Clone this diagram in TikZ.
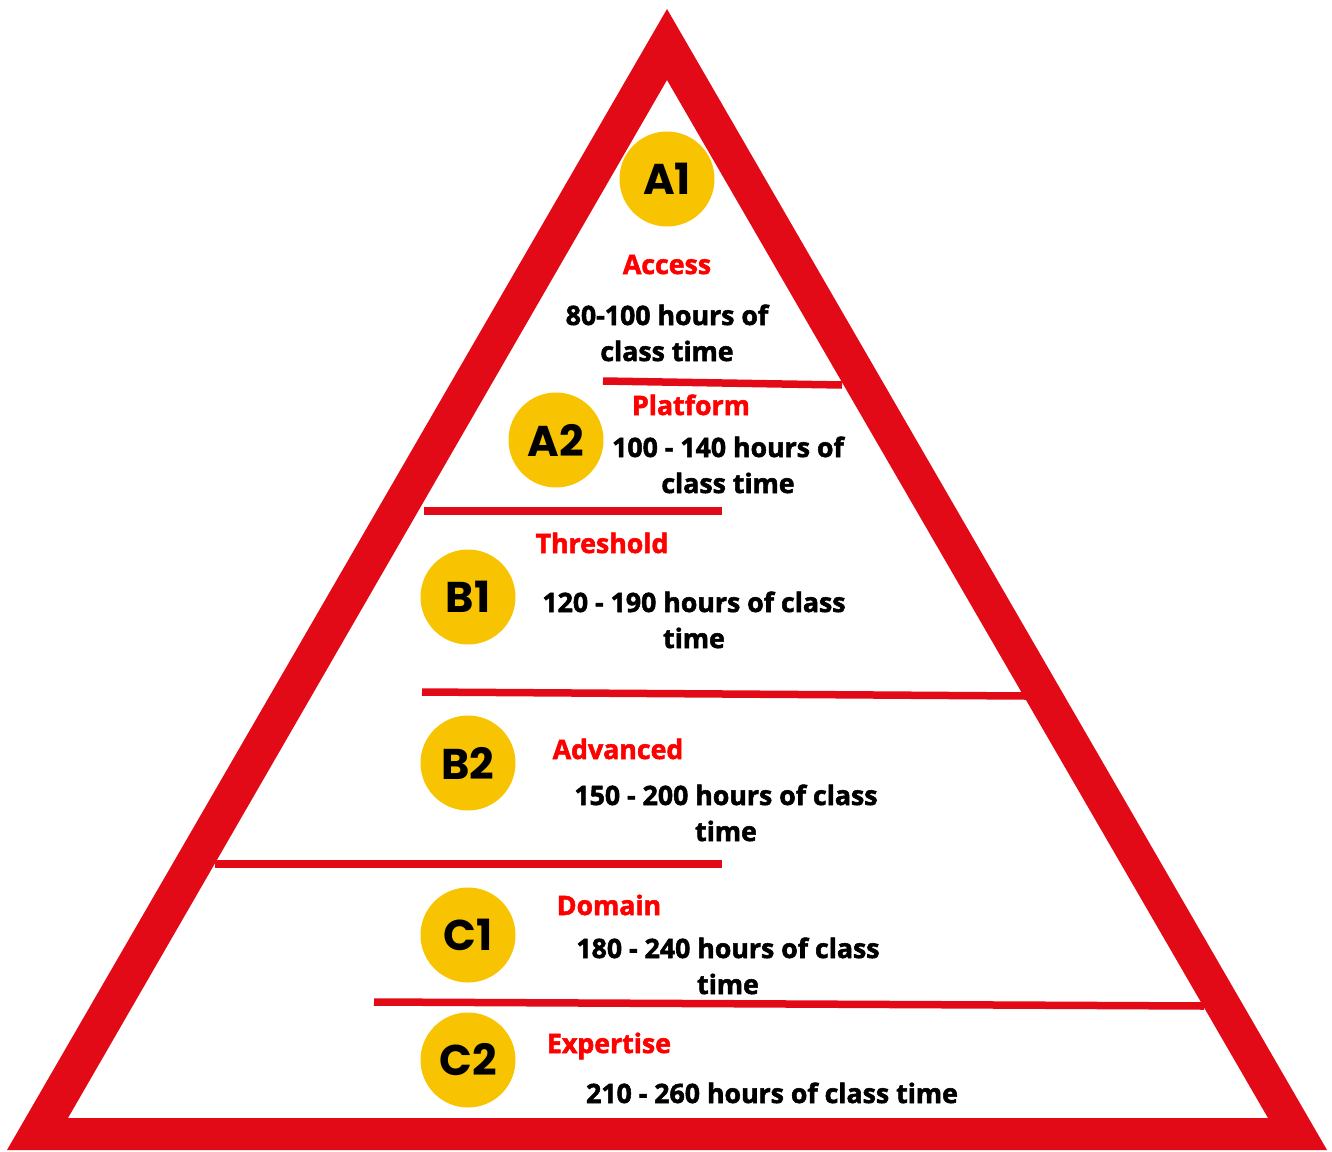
\documentclass[tikz,border=0pt]{standalone}
\usepackage{fontspec}
\setmainfont{Open Sans}[BoldFeatures={FakeBold=2}]
\newfontfamily\levelfont{Poppins}
\definecolor{trired}{HTML}{E30A17}
\definecolor{labelred}{HTML}{FF0000}
\definecolor{levelyellow}{HTML}{F8C300}

\begin{document}
\begin{tikzpicture}[x=1pt, y=-1pt,
		level/.style={circle, fill=levelyellow, minimum size=95pt, inner sep=0pt, font=\levelfont\bfseries\fontsize{43}{43}\selectfont},
		stage/.style={anchor=base, text=labelred, font=\bfseries\fontsize{26.7}{36}\selectfont},
		hours/.style={anchor=base, align=center, font=\bfseries\fontsize{26.7}{36}\selectfont},
		bar/.style={draw=trired, line width=7.5pt}]
	\useasboundingbox (0,0) rectangle (1332,1151);
	
	\coordinate (T) at (667,9);
	\coordinate (L) at (7,1150);
	\coordinate (R) at (1327,1150);
	\coordinate (t) at (667,80);
	\coordinate (l) at (68,1118);
	\coordinate (r) at (1268,1118);
	
	\fill[trired, even odd rule] (T) -- (L) -- (R) -- cycle (t) -- (l) -- (r) -- cycle;
	
	% separators
	\draw[bar] (603,381) -- (842,385);
	\draw[bar] (424,511) -- (722,511);
	\draw[bar] (422,692) -- (1026,696);
	\draw[bar] (215,864) -- (722,864);
	\draw[bar] (374,1002) -- (1204,1006);
	
	% levels
	\node[level] (a1) at (667,179) {A1};
	\node[level] (a2) at (556,440) {A2};
	\node[level] (b1) at (468,597) {B1};
	\node[level] (b2) at (468,763) {B2};
	\node[level] (c1) at (468,935) {C1};
	\node[level] (c2) at (468,1060) {C2};
	
	% base of a two-line node is its last line
	\node[stage] (access) at (667,274) {Access};
	\node[hours] (a1hours) at (667,361) {80-100 hours of\\class time};
	\node[stage] (platform) at (691,415) {Platform};
	\node[hours] (a2hours) at (728,493) {100 - 140 hours of\\class time};
	\node[stage] (threshold) at (602,553) {Threshold};
	\node[hours] (b1hours) at (694,648) {120 - 190 hours of class\\time};
	\node[stage] (advanced) at (618,759) {Advanced};
	\node[hours] (b2hours) at (726,841) {150 - 200 hours of class\\time};
	\node[stage] (domain) at (609,915) {Domain};
	\node[hours] (c1hours) at (728,994) {180 - 240 hours of class\\time};
	\node[stage] (expertise) at (609,1053) {Expertise};
	\node[hours] (c2hours) at (772,1103) {210 - 260 hours of class time};
\end{tikzpicture}
\end{document}
